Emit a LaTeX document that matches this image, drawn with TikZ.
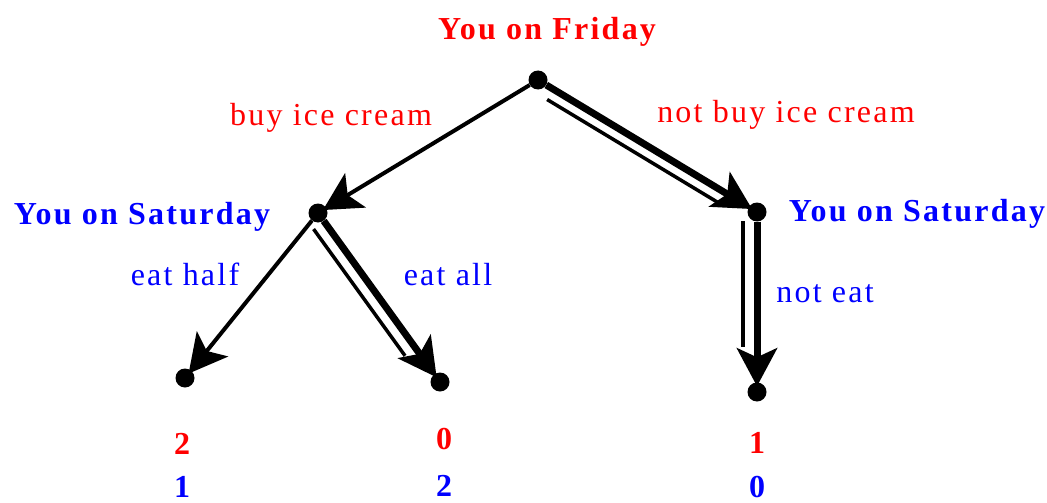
\documentclass[tikz,border=0pt]{standalone}
\usepackage{fontspec}
\setmainfont{Liberation Serif}[LetterSpace=7.0]
\usetikzlibrary{arrows.meta,calc}
\definecolor{pred}{RGB}{255,0,0}
\definecolor{pblue}{RGB}{0,0,255}
\begin{document}
\begin{tikzpicture}[x=1pt,y=-1pt,
  dot/.style={circle,fill=black,inner sep=0pt,minimum size=19pt},
  lbl/.style={inner sep=0pt,anchor=base,font=\fontsize{32}{38}\selectfont},
  player/.style={inner sep=0pt,anchor=base,font=\fontsize{32}{38}\selectfont\bfseries},
  tipstyle/.style={-{Stealth[length=38pt,width=40pt,inset=9pt]},shorten >=-4pt},
  arr/.style={line width=4pt,tipstyle},
  thickarr/.style={line width=7pt,tipstyle},
  thinline/.style={line width=3.5pt}]
\useasboundingbox (0,0) rectangle (1047,503);
% decision points
\node[dot] (f) at (538,80) {};
\node[dot] (sl) at (318,213) {};
\node[dot] (sr) at (757,212) {};
\node[dot] (l1) at (185,378) {};
\node[dot] (l2) at (440,382) {};
\node[dot] (l3) at (757,392) {};
% player labels
\node[player,text=pred] (pf) at (547,40) {You on Friday};
\node[player,text=pblue] (psl) at (142,224) {You on Saturday};
\node[player,text=pblue] (psr) at (917,221) {You on Saturday};
% action labels
\node[lbl,text=pred] (a1) at (331,125) {buy ice cream};
\node[lbl,text=pred] (a2) at (786,122) {not buy ice cream};
\node[lbl,text=pblue] (a3) at (185,285) {eat half};
\node[lbl,text=pblue] (a4) at (448,285) {eat all};
\node[lbl,text=pblue] (a5) at (825,302) {not eat};
% payoffs
\node[player,text=pred] (p1a) at (182,454) {2};
\node[player,text=pblue] (p1b) at (182,497) {1};
\node[player,text=pred] (p2a) at (444,449) {0};
\node[player,text=pblue] (p2b) at (444,496) {2};
\node[player,text=pred] (p3a) at (757,453) {1};
\node[player,text=pblue] (p3b) at (757,497) {0};
% edges
\draw[arr] (f) -- (sl);
\draw[arr] (sl) -- (l1);
\draw[thickarr] (f) -- (sr);
\draw[thickarr] (sl) -- (l2);
\draw[thickarr] (sr) -- (l3);
% parallel thin lines marking chosen actions
\draw[thinline] ($($(f)!0.07!(sr)$)!12pt!-90:(sr)$) -- ($($(f)!0.85!(sr)$)!12pt!90:(f)$);
\draw[thinline] ($($(sl)!0.05!(l2)$)!13pt!-90:(l2)$) -- ($($(sl)!0.80!(l2)$)!13pt!90:(sl)$);
\draw[thinline] ($($(sr)!0.05!(l3)$)!14pt!-90:(l3)$) -- ($($(sr)!0.75!(l3)$)!14pt!90:(sr)$);
\end{tikzpicture}
\end{document}
